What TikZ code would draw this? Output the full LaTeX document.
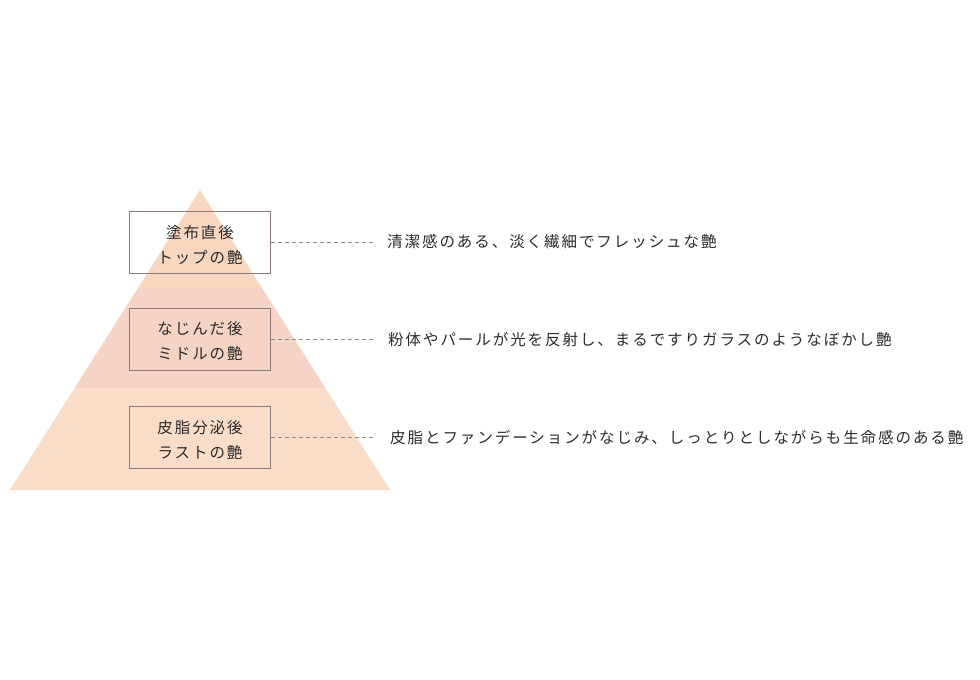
\documentclass[tikz,border=0pt]{standalone}
\usepackage{fontspec}
\setmainfont[LetterSpace=12.5]{Noto Sans CJK JP}
\definecolor{bandTop}{HTML}{F8D6C0}
\definecolor{bandMid}{HTML}{F5D3C5}
\definecolor{bandLow}{HTML}{F9DDC8}
\definecolor{boxLine}{HTML}{8C7B76}
\definecolor{ink}{HTML}{2B2B2B}
\tikzset{%
  % Specifications for style of nodes:
     tierBox/.style = {rectangle, draw=boxLine, line width=0.8pt,
                       minimum width=141pt, minimum height=62pt,
                       inner sep=0pt},
    tierText/.style = {inner sep=0pt, align=center, text=ink,
                       font=\fontsize{15.5}{25}\selectfont},
    tierNote/.style = {anchor=west, inner sep=0pt, text=ink,
                       font=\fontsize{15.5}{18}\selectfont},
      leader/.style = {draw=gray!90, line width=0.6pt,
                       dash pattern=on 4pt off 3pt},
}
\begin{document}
\begin{tikzpicture}[x=1pt, y=-1pt]
  \useasboundingbox (0,0) rectangle (980,680);
  % Pyramid with three bands
  \coordinate (apex)  at (200,190);
  \coordinate (baseL) at (10,490);
  \coordinate (baseR) at (390,490);
  \begin{scope}
    \clip (apex) -- (baseL) -- (baseR) -- cycle;
    \fill[bandTop] (0,180) rectangle (400,288);
    \fill[bandMid] (0,288) rectangle (400,388);
    \fill[bandLow] (0,388) rectangle (400,500);
  \end{scope}

  % Specification of nodes (position, etc.)
  \node (topBox)  [tierBox] at (200,242.5) {};
  \node (midBox)  [tierBox] at (200,339)   {};
  \node (lastBox) [tierBox] at (200,437.5) {};

  \node (topText)  [tierText] at ([yshift=-2.5pt]topBox.center)  {塗布直後\\トップの艶};
  \node (midText)  [tierText] at ([yshift=-2.5pt]midBox.center)  {なじんだ後\\ミドルの艶};
  \node (lastText) [tierText] at ([yshift=-2.5pt]lastBox.center) {皮脂分泌後\\ラストの艶};

  \node (topNote)  [tierNote] at (387,241.5) {清潔感のある、淡く繊細でフレッシュな艶};
  \node (midNote)  [tierNote] at (388,340)   {粉体やパールが光を反射し、まるですりガラスのようなぼかし艶};
  \node (lastNote) [tierNote] at (390,438)   {皮脂とファンデーションがなじみ、しっとりとしながらも生命感のある艶};

  % Dashed leaders from boxes to notes
  \draw[leader, shorten >=12pt] (topBox.east)  -- (topBox.east -| topNote.west);
  \draw[leader, shorten >=13pt] (midBox.east)  -- (midBox.east -| midNote.west);
  \draw[leader, shorten >=15pt] (lastBox.east) -- (lastBox.east -| lastNote.west);
\end{tikzpicture}
\end{document}
